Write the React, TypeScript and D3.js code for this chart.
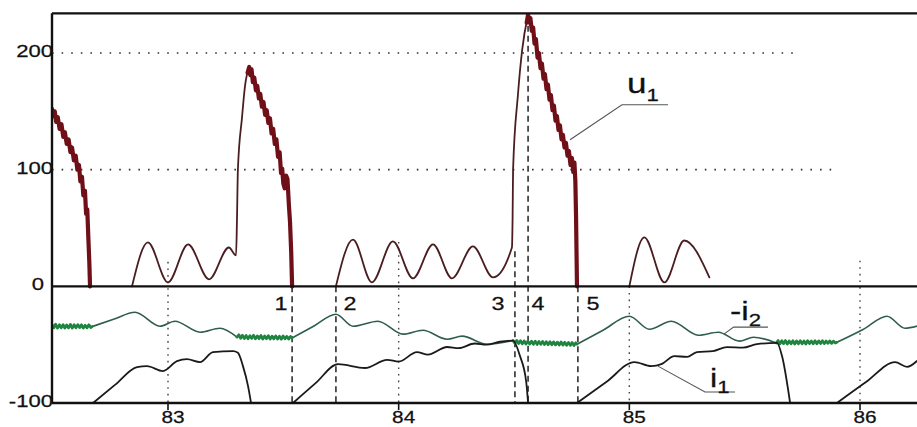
import React from "react";
import * as d3 from "d3";

// ---------- data ----------
type P = [number, number];

const xTicks = [83, 84, 85, 86];
const xTickLabels = ["83", "84", "85", "86"];
const xTickDotTop = [21, 38, 0, 22];
const yTicks = [200, 100, 0, -100];
const yTickLabels = ["200", "100", "0", "-100"];
const gridValues = [200, 100];
const gridEnds = [85.727, 85.883];
const topValue = 234;

// u1 noisy spikes (thick)
const u1SpikeA: P[] = [[82.497,152],[82.503,146],[82.509,150],[82.515,141],[82.522,145],[82.53,135],[82.538,139],[82.546,128],[82.553,132],[82.561,122],[82.569,126],[82.577,115],[82.584,119],[82.592,108],[82.6,112],[82.607,100],[82.614,104],[82.62,90],[82.627,94],[82.633,78],[82.64,82],[82.645,62],[82.65,66],[82.655,40],[82.659,20],[82.662,0]];
const u1SpikeB: P[] = [[83.345,183],[83.352,188],[83.357,181],[83.362,186],[83.368,175],[83.374,179],[83.381,168],[83.387,172],[83.394,161],[83.4,165],[83.407,154],[83.414,158],[83.421,147],[83.428,151],[83.435,140],[83.442,144],[83.449,131],[83.456,135],[83.463,122],[83.47,126],[83.477,111],[83.484,115],[83.49,97],[83.495,101],[83.5,88],[83.506,84],[83.512,95],[83.518,92],[83.524,70],[83.529,55],[83.534,30],[83.538,0]];
const u1SpikeC: P[] = [[84.555,226],[84.561,233],[84.566,226],[84.571,230],[84.577,219],[84.583,222],[84.589,208],[84.595,212],[84.602,196],[84.608,200],[84.615,187],[84.621,191],[84.628,178],[84.634,182],[84.641,169],[84.647,173],[84.654,160],[84.66,164],[84.667,151],[84.673,155],[84.68,142],[84.686,146],[84.693,134],[84.699,138],[84.706,126],[84.712,130],[84.719,119],[84.725,123],[84.732,112],[84.738,116],[84.745,104],[84.751,110],[84.757,98],[84.762,106],[84.766,90],[84.769,60],[84.771,30],[84.773,0]];
// u1 oscillating parts + rises (thin)
const u1Wave1: P[] = [[82.844,0],[82.913,37.6],[83.0,3.4],[83.087,35.9],[83.178,6],[83.264,33.3],[83.295,26.5],[83.299,57],[83.303,100],[83.321,145],[83.334,172],[83.352,188]];
const u1Wave2: P[] = [[83.728,0],[83.802,40],[83.884,3.4],[83.975,38.5],[84.062,6.8],[84.149,35.9],[84.231,6.8],[84.322,34.2],[84.409,7.7],[84.491,33.3],[84.494,60],[84.496,100],[84.517,164],[84.535,202],[84.561,233]];
const u1Wave3: P[] = [[85,0],[85.065,42],[85.152,3.4],[85.238,39.3],[85.347,7.7]];

// -i2 smooth parts
const i2Smooth: P[][] = [
  [[82.671,-34.5],[82.764,-28.3],[82.857,-22.2],[82.965,-34.2],[83.03,-29.9],[83.139,-39.3],[83.225,-35.9],[83.299,-43.5]],
  [[83.538,-44.2],[83.633,-34],[83.728,-23.9],[83.802,-34.2],[83.91,-29.9],[84.019,-41],[84.105,-37.6],[84.21,-45.3],[84.275,-42.7],[84.383,-49.6],[84.496,-46.5]],
  [[84.773,-49.6],[84.886,-37.6],[85,-25.6],[85.087,-36.8],[85.182,-29.9],[85.299,-41.9],[85.386,-39.3],[85.477,-47],[85.538,-43.6],[85.637,-48.5]],
  [[85.9,-48],[86.013,-37],[86.117,-25.6],[86.195,-35.9],[86.25,-34]],
];
// -i2 noisy parts
const i2Noisy: P[][] = [
  [[82.497,-33],[82.505,-35.5],[82.513,-32.5],[82.521,-35.8],[82.529,-33],[82.537,-35.5],[82.545,-32.8],[82.553,-35.8],[82.561,-33.2],[82.569,-35.6],[82.577,-32.6],[82.585,-35.8],[82.593,-33],[82.601,-35.5],[82.609,-32.8],[82.617,-35.4],[82.625,-33],[82.633,-35.8],[82.641,-33.4],[82.649,-35.6],[82.657,-33],[82.665,-35.3],[82.671,-34.5]],
  [[83.299,-43.5],[83.307,-41.5],[83.315,-44.5],[83.323,-42],[83.331,-44.8],[83.339,-42.2],[83.347,-45],[83.355,-42.4],[83.363,-44.6],[83.371,-42],[83.379,-45],[83.387,-42.5],[83.395,-44.8],[83.403,-42.2],[83.411,-45.2],[83.419,-42.6],[83.427,-44.9],[83.435,-42.3],[83.443,-45.1],[83.451,-42.7],[83.459,-45],[83.467,-42.5],[83.475,-45.2],[83.483,-42.8],[83.491,-45.3],[83.499,-42.6],[83.507,-45],[83.515,-42.9],[83.523,-45.2],[83.531,-43],[83.538,-44.2]],
  [[84.496,-46.5],[84.504,-48.8],[84.512,-46.3],[84.52,-49],[84.528,-46.6],[84.536,-49.2],[84.544,-46.8],[84.552,-49.4],[84.56,-47],[84.568,-49.5],[84.576,-47.1],[84.584,-49.6],[84.592,-47],[84.6,-49.8],[84.608,-47.3],[84.616,-49.7],[84.624,-47.2],[84.632,-49.9],[84.64,-47.5],[84.648,-50],[84.656,-47.4],[84.664,-50.1],[84.672,-47.6],[84.68,-50.2],[84.688,-47.8],[84.696,-50.3],[84.704,-47.7],[84.712,-50.4],[84.72,-48],[84.728,-50.5],[84.736,-48.1],[84.744,-50.6],[84.752,-48.2],[84.76,-50.7],[84.768,-48.4],[84.773,-49.6]],
  [[85.637,-48.5],[85.645,-46.5],[85.653,-49.3],[85.661,-46.7],[85.669,-49.1],[85.677,-46.5],[85.685,-49.4],[85.693,-46.8],[85.701,-49.2],[85.709,-46.6],[85.717,-49.5],[85.725,-46.9],[85.733,-49.3],[85.741,-46.7],[85.749,-49.2],[85.757,-46.8],[85.765,-49.4],[85.773,-46.6],[85.781,-49.1],[85.789,-46.9],[85.797,-49.3],[85.805,-46.7],[85.813,-49.2],[85.821,-46.8],[85.829,-49],[85.837,-46.6],[85.845,-49.1],[85.853,-46.9],[85.861,-48.8],[85.869,-46.8],[85.877,-48.9],[85.885,-47],[85.893,-48.6],[85.9,-48]],
];
// i1
const i1Parts: P[][] = [
  [[82.675,-100],[82.77,-84.5],[82.866,-69.2],[82.909,-68.4],[82.978,-72.6],[83.039,-64.1],[83.082,-62.4],[83.139,-65],[83.195,-56.4],[83.282,-55.6],[83.303,-57],[83.325,-68.4],[83.347,-85.5],[83.36,-100]],
  [[83.542,-100],[83.64,-83],[83.737,-66.7],[83.854,-70],[83.95,-63],[84.0,-64.5],[84.079,-56.4],[84.127,-58.5],[84.21,-52],[84.26,-53],[84.33,-49],[84.38,-50],[84.439,-47.5],[84.496,-46.5],[84.526,-59.8],[84.553,-82],[84.561,-100]],
  [[84.773,-100],[84.9,-82],[85.022,-65],[85.095,-68.4],[85.139,-66.7],[85.195,-59.8],[85.25,-60.5],[85.293,-56.4],[85.362,-55.6],[85.423,-52.1],[85.492,-52.6],[85.553,-49.6],[85.64,-48.5],[85.662,-59.8],[85.697,-100]],
  [[85.9,-100],[86.026,-82],[86.152,-65],[86.204,-69],[86.247,-64]],
];

// switching instants
const markerT = [83.538, 83.728, 84.504, 84.561, 84.777];
const markerTop = [0, 0, 30, 232, 0];
const markerLabels = ["1", "2", "3", "4", "5"];
const markerLabelOffset = [-11, 14, -17, 10, 15];

// annotations
const u1Leader: P[] = [[84.743,125.6],[84.968,155.6],[85.168,155.6]];
const u1LabelPos: P = [84.99, 165.8];
const i2Leader: P[] = [[85.41,-41],[85.452,-35],[85.601,-35]];
const i2LabelPos: P = [85.436, -28.5];
const i1Leader: P[] = [[85.124,-68.4],[85.328,-90.6],[85.458,-90.6]];
const i1LabelPos: P = [85.35, -86.3];

// ---------- component ----------
const W = 917, H = 427;
const x = d3.scaleLinear().domain([83, 86]).range([168, 860]);
const y = d3.scaleLinear().domain([-100, 200]).range([403, 53]);
const xLeft = x.invert(52);
const xRight = x.invert(917);

const linear = d3.line<P>().x(d => x(d[0])).y(d => y(d[1]));
const smooth = d3.line<P>().x(d => x(d[0])).y(d => y(d[1])).curve(d3.curveMonotoneX);

const FONT = "'Liberation Sans', Arial, sans-serif";
const SX = 1.3;

function T({ px, py, size, anchor = "start", children }: any) {
  return (
    <text transform={`translate(${px},${py}) scale(${SX},1)`} fontSize={size} fontFamily={FONT} textAnchor={anchor} fill="#111" stroke="#111" strokeWidth={0.25}>
      {children}
    </text>
  );
}

export default function App() {
  const u1Thick = "#6f0f17";
  const u1Thin = "#4a1e20";
  const i2Thin = "#2f5e4c";
  const i2Green = "#1f8440";
  return (
    <svg width={W} height={H} style={{ position: "absolute", left: 0, top: 0, background: "#fff" }}>
      <defs>
        <clipPath id="plot">
          <rect x={x(xLeft)} y={y(topValue)} width={x(xRight) - x(xLeft)} height={y(-100) - y(topValue) + 1} />
        </clipPath>
      </defs>
      <rect width={W} height={H} fill="#fff" />

      {/* horizontal dotted gridlines */}
      {gridValues.map((v, i) => (
        <line key={"g" + v} x1={x(xLeft)} x2={x(gridEnds[i])} y1={y(v)} y2={y(v)} stroke="#333" strokeWidth={1.6} strokeDasharray="1.6,8" />
      ))}
      {/* vertical dotted at ticks */}
      {xTicks.map((t, i) => (
        <line key={"vd" + t} x1={x(t)} x2={x(t)} y1={y(xTickDotTop[i])} y2={y(-100)} stroke="#444" strokeWidth={1.4} strokeDasharray="1.6,5" />
      ))}
      {/* switching instants */}
      {markerT.map((t, i) => (
        <line key={"m" + i} x1={x(t)} x2={x(t)} y1={y(markerTop[i])} y2={y(-100)} stroke="#222" strokeWidth={1.5} strokeDasharray="6,4" />
      ))}

      <g clipPath="url(#plot)" fill="none" strokeLinejoin="round" strokeLinecap="round">
        {[u1Wave1, u1Wave2, u1Wave3].map((d, i) => (
          <path key={"w" + i} d={smooth(d) || ""} stroke={u1Thin} strokeWidth={1.8} />
        ))}
        {[u1SpikeA, u1SpikeB, u1SpikeC].map((d, i) => (
          <path key={"s" + i} d={linear(d) || ""} stroke={u1Thick} strokeWidth={4.2} />
        ))}
        {i2Smooth.map((d, i) => (
          <path key={"i2s" + i} d={smooth(d) || ""} stroke={i2Thin} strokeWidth={1.6} />
        ))}
        {i2Noisy.map((d, i) => (
          <path key={"i2n" + i} d={linear(d) || ""} stroke={i2Green} strokeWidth={2.8} />
        ))}
        {i1Parts.map((d, i) => (
          <path key={"i1" + i} d={smooth(d) || ""} stroke="#1a1a1a" strokeWidth={1.8} />
        ))}
      </g>

      {/* frame */}
      <line x1={x(xLeft)} x2={x(xRight)} y1={y(topValue)} y2={y(topValue)} stroke="#111" strokeWidth={2.4} />
      <line x1={x(xLeft)} x2={x(xRight)} y1={y(0)} y2={y(0)} stroke="#111" strokeWidth={2.4} />
      <line x1={x(xLeft)} x2={x(xRight)} y1={y(-100)} y2={y(-100)} stroke="#111" strokeWidth={2.4} />
      <line x1={x(xLeft)} x2={x(xLeft)} y1={y(topValue)} y2={y(-100)} stroke="#111" strokeWidth={2.4} />

      {/* x ticks */}
      {xTicks.map((t, i) => (
        <g key={"xt" + t}>
          <line x1={x(t)} x2={x(t)} y1={y(-100)} y2={y(-100) + 7} stroke="#111" strokeWidth={1.6} />
          <T px={x(t) + 5} py={y(-100) + 20} size={16} anchor="middle">{xTickLabels[i]}</T>
        </g>
      ))}
      {/* y labels */}
      {yTicks.map((v, i) => (
        <T key={"yt" + v} px={v === 0 ? 44 : 53} py={y(v) + 4} size={17} anchor="end">{yTickLabels[i]}</T>
      ))}

      {/* marker labels */}
      {markerT.map((t, i) => (
        <T key={"ml" + i} px={x(t) + markerLabelOffset[i]} py={y(0) + 24} size={18} anchor="middle">{markerLabels[i]}</T>
      ))}

      {/* annotations */}
      <g fill="none" stroke="#555" strokeWidth={1.1}>
        <path d={linear(u1Leader) || ""} />
        <path d={linear(i2Leader) || ""} />
        <path d={linear(i1Leader) || ""} />
      </g>
      <T px={x(u1LabelPos[0])} py={y(u1LabelPos[1])} size={27}>
        u<tspan fontSize={17} dy={8}>1</tspan>
      </T>
      <T px={x(i2LabelPos[0])} py={y(i2LabelPos[1])} size={26}>
        -i<tspan fontSize={17} dy={6}>2</tspan>
      </T>
      <T px={x(i1LabelPos[0])} py={y(i1LabelPos[1])} size={25}>
        i<tspan fontSize={17} dy={6}>1</tspan>
      </T>
    </svg>
  );
}
